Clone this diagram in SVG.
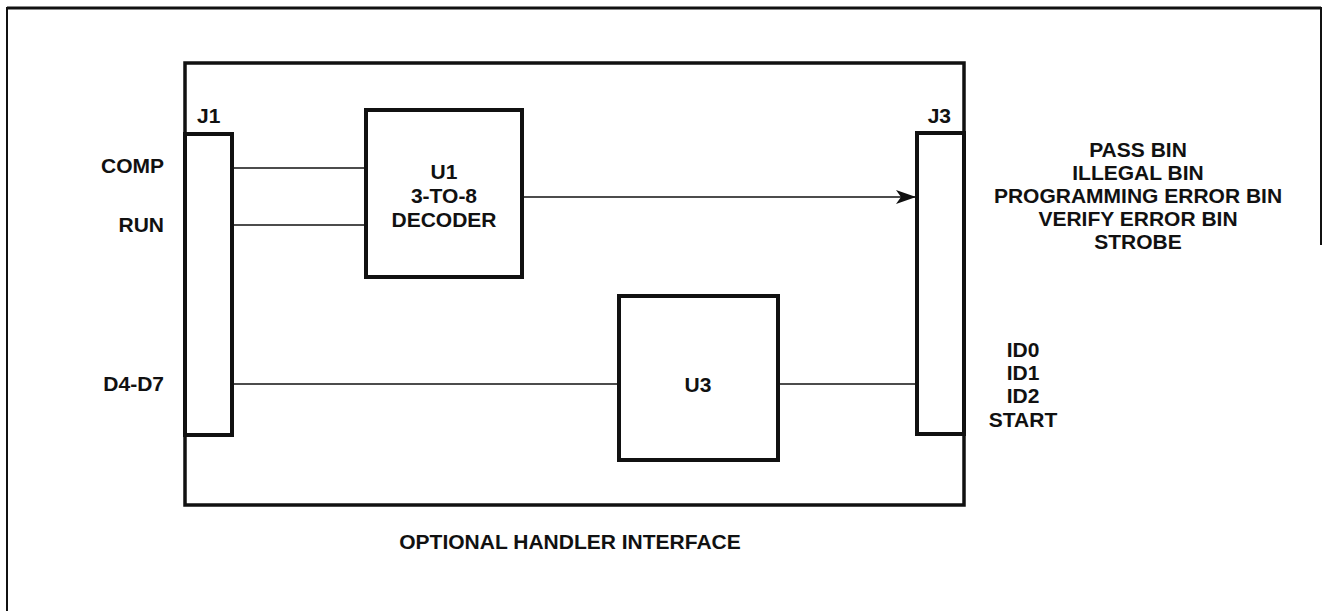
<svg xmlns="http://www.w3.org/2000/svg" width="1323" height="611" viewBox="0 0 1323 611">
<style>
  .lbl { font-family: "Liberation Sans", Arial, sans-serif; font-weight: bold; font-size: 21px; fill: #111; }
  .box { fill: #fff; stroke: #111; stroke-width: 4; }
  .frame { fill: none; stroke: #111; stroke-width: 3.5; }
  .wire { fill: none; stroke: #111; stroke-width: 1.6; }
</style>
<defs>
  <marker id="arr" markerUnits="userSpaceOnUse" markerWidth="22" markerHeight="16" refX="20" refY="7" orient="auto">
    <path d="M0,0 L20,7 L0,14 L5,7 Z" fill="#111"/>
  </marker>
</defs>
<rect width="1323" height="611" fill="#fff"/>
<g id="outer-frame">
  <path d="M7,611 L7,8 L1321,8 L1321,245" fill="none" stroke="#111" stroke-width="2"/>
  <line x1="7" y1="8" x2="1321" y2="8" stroke="#111" stroke-width="3"/>
</g>
<g id="interface-board">
  <rect class="frame" x="185" y="63" width="779" height="442"/>
  <text class="lbl" x="570" y="549" text-anchor="middle">OPTIONAL HANDLER INTERFACE</text>
</g>
<g id="connectors">
  <line class="wire" x1="232" y1="168" x2="366" y2="168"/>
  <line class="wire" x1="232" y1="225" x2="366" y2="225"/>
  <line class="wire" x1="522" y1="197" x2="916" y2="197" marker-end="url(#arr)"/>
  <line class="wire" x1="232" y1="384" x2="619" y2="384"/>
  <line class="wire" x1="778" y1="384" x2="917" y2="384"/>
</g>
<g id="J1">
  <rect class="box" x="185" y="134" width="47" height="301"/>
  <text class="lbl" x="197" y="123">J1</text>
</g>
<g id="J3">
  <rect class="box" x="917" y="133" width="47" height="301"/>
  <text class="lbl" x="951" y="123" text-anchor="end">J3</text>
</g>
<g id="U1">
  <rect class="box" x="366" y="110" width="156" height="167"/>
  <text class="lbl" x="444" y="179" text-anchor="middle">U1</text>
  <text class="lbl" x="444" y="203" text-anchor="middle">3-TO-8</text>
  <text class="lbl" x="444" y="227" text-anchor="middle">DECODER</text>
</g>
<g id="U3">
  <rect class="box" x="619" y="296" width="159" height="164"/>
  <text class="lbl" x="698" y="392" text-anchor="middle">U3</text>
</g>
<g id="inputs">
  <text class="lbl" x="164" y="173" text-anchor="end">COMP</text>
  <text class="lbl" x="164" y="232" text-anchor="end">RUN</text>
  <text class="lbl" x="164" y="391" text-anchor="end">D4-D7</text>
</g>
<g id="outputs">
  <text class="lbl" x="1138" y="157" text-anchor="middle">PASS BIN</text>
  <text class="lbl" x="1138" y="180" text-anchor="middle">ILLEGAL BIN</text>
  <text class="lbl" x="1138" y="203" text-anchor="middle">PROGRAMMING ERROR BIN</text>
  <text class="lbl" x="1138" y="226" text-anchor="middle">VERIFY ERROR BIN</text>
  <text class="lbl" x="1138" y="249" text-anchor="middle">STROBE</text>
</g>
<g id="handler-signals">
  <text class="lbl" x="1023" y="357" text-anchor="middle">ID0</text>
  <text class="lbl" x="1023" y="380" text-anchor="middle">ID1</text>
  <text class="lbl" x="1023" y="403" text-anchor="middle">ID2</text>
  <text class="lbl" x="1023" y="427" text-anchor="middle">START</text>
</g>
</svg>
